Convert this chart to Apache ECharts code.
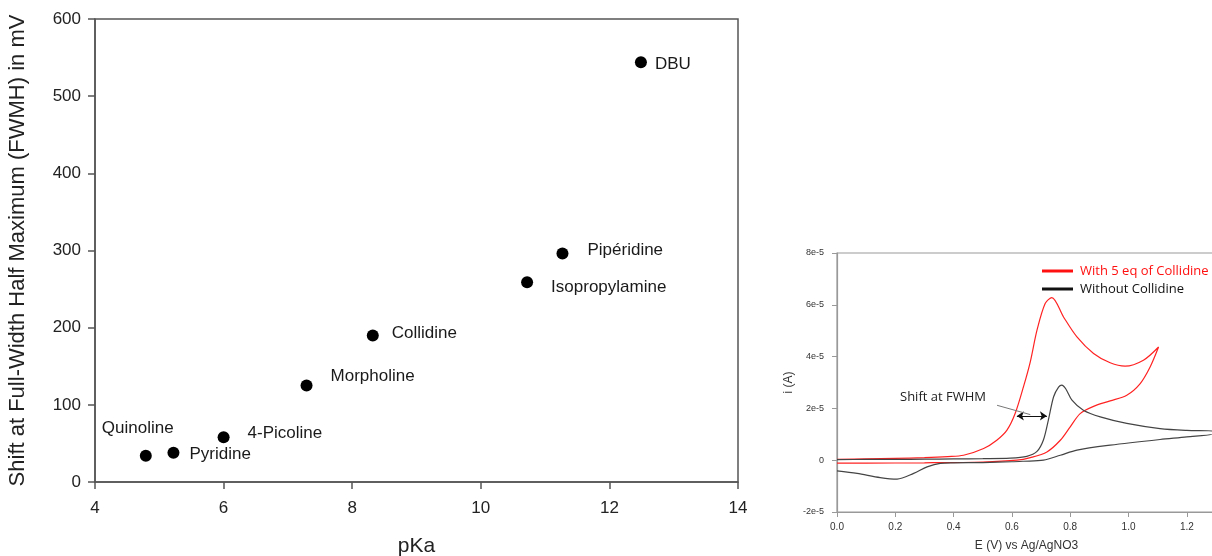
<!DOCTYPE html>
<html>
<head>
<meta charset="utf-8">
<script src="https://cdn.jsdelivr.net/npm/echarts@6/dist/echarts.min.js"></script>
<style>
  html, body { margin: 0; padding: 0; background: #fff; }
  #chart { width: 1212px; height: 556px; }
</style>
</head>
<body>
<div id="chart"></div>
<script>
// Peak shift at FWHM versus base pKa
const bases = ['Quinoline', 'Pyridine', '4-Picoline', 'Morpholine', 'Collidine', 'Isopropylamine', 'Pipéridine', 'DBU'];
const pKa = [4.79, 5.22, 6.0, 7.29, 8.32, 10.72, 11.27, 12.49];
const fwhmShift = [34, 38, 58, 125, 190, 259, 296, 544];

// Cyclic voltammograms (E in V, i in units of 1e-5 A), scan path forward then back
const cvWithE = [0, 0.1, 0.2, 0.3, 0.38, 0.434, 0.503, 0.548, 0.583, 0.611, 0.64, 0.663, 0.686, 0.714, 0.737, 0.777, 0.823, 0.88, 0.937, 0.988, 1.051, 1.103,
                 1.074, 1.04, 0.994, 0.937, 0.88, 0.834, 0.8, 0.766, 0.72, 0.663, 0.617, 0.5, 0.3, 0.1, 0];
const cvWithI = [0.03, 0.05, 0.07, 0.1, 0.14, 0.19, 0.45, 0.77, 1.16, 1.8, 2.85, 3.8, 5.02, 6.05, 6.28, 5.53, 4.76, 4.12, 3.76, 3.63, 3.86, 4.37,
                 3.6, 2.96, 2.51, 2.29, 2.08, 1.8, 1.29, 0.77, 0.32, 0.1, 0.0, -0.07, -0.1, -0.11, -0.11];
const cvWithoutE = [0, 0.1, 0.2, 0.3, 0.4, 0.5, 0.594, 0.651, 0.686, 0.708, 0.725, 0.743, 0.76, 0.771, 0.785, 0.806, 0.845, 0.903, 0.994, 1.108, 1.2, 1.29,
                    1.29, 1.2, 1.108, 0.937, 0.823, 0.766, 0.708, 0.64, 0.6, 0.5, 0.4, 0.354, 0.309, 0.263, 0.206, 0.148, 0.069, 0];
const cvWithoutI = [0.02, 0.03, 0.03, 0.04, 0.05, 0.06, 0.08, 0.15, 0.34, 0.78, 1.55, 2.45, 2.82, 2.9, 2.75, 2.32, 1.93, 1.67, 1.42, 1.22, 1.15, 1.12,
                    1.02, 0.9, 0.8, 0.58, 0.39, 0.19, 0.0, -0.04, -0.06, -0.09, -0.1, -0.12, -0.26, -0.51, -0.73, -0.67, -0.51, -0.41];

// Annotation: FWHM shift arrow and its pointer (data coordinates of the inset)
const shiftArrow = [[0.617, 1.71], [0.72, 1.71]];
const shiftPointer = [[0.549, 2.12], [0.663, 1.76]];

// Label offsets (px) from each marker to its text
const labelOffsets = [[-44, -27], [16, 2], [24, -4], [24, -9], [19, -2], [24, 5], [25, -3], [14, 2]];

const mainFont = 'Liberation Sans, Arial, sans-serif';
const noteFont = 'Open Sans, Noto Sans, sans-serif';

const chart = echarts.init(document.getElementById('chart'), null, { renderer: 'canvas' });

const scatterData = pKa.map((x, k) => ({
  value: [x, fwhmShift[k]],
  name: bases[k],
  label: { offset: labelOffsets[k] }
}));

const pair = (xs, ys) => xs.map((x, k) => [x, ys[k]]);

chart.setOption({
  animation: false,
  backgroundColor: '#fff',
  grid: [
    { left: 95, top: 19, width: 643, height: 463, outerBoundsMode: 'none', containLabel: false,
      show: true, borderColor: '#555', borderWidth: 1.5, backgroundColor: 'transparent' },
    { left: 837, top: 253, width: 379, height: 259, outerBoundsMode: 'none', containLabel: false,
      show: true, borderColor: '#999', borderWidth: 1.2, backgroundColor: 'transparent' }
  ],
  xAxis: [
    {
      gridIndex: 0, type: 'value', min: 4, max: 14, interval: 2,
      name: 'pKa', nameLocation: 'middle', nameGap: 54,
      nameTextStyle: { fontFamily: mainFont, fontSize: 21, color: '#222' },
      axisLine: { onZero: false, lineStyle: { color: '#555', width: 1.5 } },
      axisTick: { inside: false, length: 7, lineStyle: { color: '#555', width: 1.5 } },
      axisLabel: { margin: 18, fontFamily: mainFont, fontSize: 17, color: '#222' },
      splitLine: { show: false }
    },
    {
      gridIndex: 1, type: 'value', min: 0, max: 1.3, interval: 0.2,
      name: 'E (V) vs Ag/AgNO3', nameLocation: 'middle', nameGap: 28,
      nameTextStyle: { fontFamily: mainFont, fontSize: 12, color: '#333' },
      axisLine: { onZero: false, lineStyle: { color: '#999', width: 1.2 } },
      axisTick: { length: 5, lineStyle: { color: '#999' } },
      axisLabel: { margin: 10, fontFamily: mainFont, fontSize: 10, color: '#333', showMaxLabel: false,
                   formatter: v => v.toFixed(1) },
      splitLine: { show: false }
    }
  ],
  yAxis: [
    {
      gridIndex: 0, type: 'value', min: 0, max: 600, interval: 100,
      name: 'Shift at Full-Width Half Maximum (FWMH) in mV', nameLocation: 'middle', nameGap: 66,
      nameTextStyle: { fontFamily: mainFont, fontSize: 22, color: '#222' },
      axisLine: { onZero: false, lineStyle: { color: '#555', width: 1.5 } },
      axisTick: { length: 7, lineStyle: { color: '#555', width: 1.5 } },
      axisLabel: { margin: 14, fontFamily: mainFont, fontSize: 17, color: '#222' },
      splitLine: { show: false }
    },
    {
      gridIndex: 1, type: 'value', min: -2, max: 8, interval: 2,
      name: 'i (A)', nameLocation: 'middle', nameGap: 42,
      nameTextStyle: { fontFamily: mainFont, fontSize: 12, color: '#333' },
      axisLine: { onZero: false, lineStyle: { color: '#999', width: 1.2 } },
      axisTick: { length: 5, lineStyle: { color: '#999' } },
      axisLabel: { margin: 13, fontFamily: mainFont, fontSize: 9, color: '#333',
                   formatter: v => (v === 0 ? '0' : v + 'e-5') },
      splitLine: { show: false }
    }
  ],
  legend: {
    data: [
      { name: 'With 5 eq of Collidine', textStyle: { color: '#ff1010' } },
      { name: 'Without Collidine', textStyle: { color: '#111' } }
    ],
    orient: 'vertical', left: 1037, top: 259,
    icon: 'rect', itemWidth: 31, itemHeight: 3, itemGap: 4,
    textStyle: { fontFamily: noteFont, fontSize: 13, lineHeight: 14, padding: [0, 0, 0, 2] },
    selectedMode: false
  },
  graphic: [
    {
      type: 'text', left: 900, top: 391, silent: true,
      style: { text: 'Shift at FWHM', font: '13px ' + noteFont, fill: '#222' }
    }
  ],
  series: [
    {
      type: 'scatter', xAxisIndex: 0, yAxisIndex: 0,
      data: scatterData,
      symbol: 'circle', symbolSize: 12,
      itemStyle: { color: '#000', opacity: 1 },
      label: {
        show: true, position: 'inside', align: 'left', verticalAlign: 'middle',
        formatter: '{b}', fontFamily: mainFont, fontSize: 17, color: '#1a1a1a'
      }
    },
    {
      name: 'With 5 eq of Collidine', type: 'line', xAxisIndex: 1, yAxisIndex: 1,
      data: pair(cvWithE, cvWithI), showSymbol: false, smooth: 0.3,
      lineStyle: { color: '#f22', width: 1.2 }, itemStyle: { color: '#ff1010' }
    },
    {
      name: 'Without Collidine', type: 'line', xAxisIndex: 1, yAxisIndex: 1,
      data: pair(cvWithoutE, cvWithoutI), showSymbol: false, smooth: 0.3,
      lineStyle: { color: '#444', width: 1.2 }, itemStyle: { color: '#111' },
      markLine: {
        silent: true, animation: false,
        label: { show: false },
        symbolSize: 7,
        data: [
          [
            { coord: shiftArrow[0], symbol: 'arrow', lineStyle: { type: 'solid', color: '#111', width: 1 } },
            { coord: shiftArrow[1], symbol: 'arrow' }
          ],
          [
            { coord: shiftPointer[0], symbol: 'none', lineStyle: { type: 'solid', color: '#777', width: 1 } },
            { coord: shiftPointer[1], symbol: 'none' }
          ]
        ]
      }
    }
  ]
});
</script>
</body>
</html>
